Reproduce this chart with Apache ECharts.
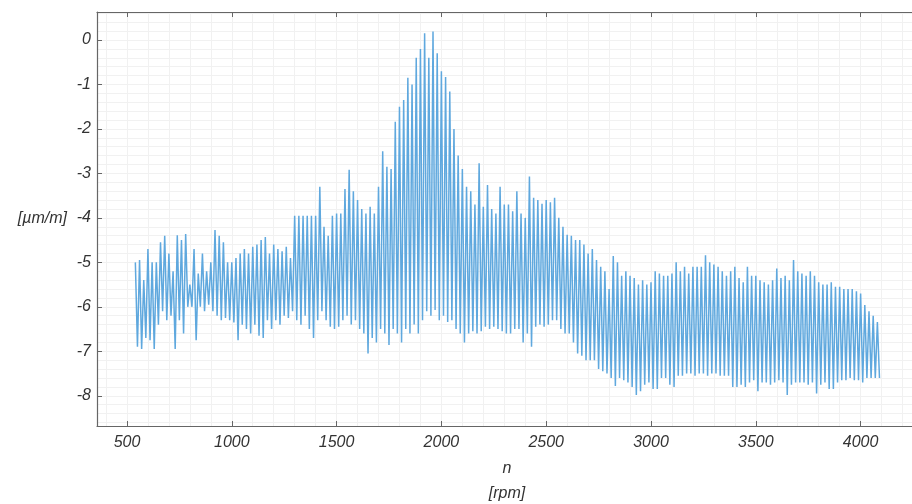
<!DOCTYPE html>
<html>
<head>
<meta charset="utf-8">
<script src="https://cdn.jsdelivr.net/npm/echarts@6/dist/echarts.min.js"></script>
<style>
html,body{margin:0;padding:0;background:#fff;}
#c{width:912px;height:504px;}
</style>
</head>
<body>
<div id="c"></div>
<script>
// sample positions (rpm) of the oscillation envelope
const rpm = [540,560,580,600,620,640,660,680,700,720,740,760,780,800,820,840,860,880,900,920,940,960,980,
1000,1020,1040,1060,1080,1100,1120,1140,1160,1180,1200,1220,1240,1260,1280,1300,1320,1340,1360,1380,1400,1420,1440,1460,1480,
1500,1520,1540,1560,1580,1600,1620,1640,1660,1680,1700,1720,1740,1760,1780,1800,1820,1840,1860,1880,1900,1920,1940,1960,1980,
2000,2020,2040,2060,2080,2100,2120,2140,2160,2180,2200,2220,2240,2260,2280,2300,2320,2340,2360,2380,2400,2420,2440,2460,2480,
2500,2520,2540,2560,2580,2600,2620,2640,2660,2680,2700,2720,2740,2760,2780,2800,2820,2840,2860,2880,2900,2920,2940,2960,2980,
3000,3020,3040,3060,3080,3100,3120,3140,3160,3180,3200,3220,3240,3260,3280,3300,3320,3340,3360,3380,3400,3420,3440,3460,3480,
3500,3520,3540,3560,3580,3600,3620,3640,3660,3680,3700,3720,3740,3760,3780,3800,3820,3840,3860,3880,3900,3920,3940,3960,3980,
4000,4020,4040,4060,4080];
// peak (upper) values of each oscillation [µm/m]
const peakVals = [-5.0,-4.95,-5.4,-4.7,-5.0,-5.0,-4.55,-4.4,-4.8,-5.2,-4.39,-4.5,-4.36,-5.5,-4.7,-5.25,-4.8,-5.2,-5.0,-4.27,-4.4,-4.55,-5.0,
-5.0,-4.9,-4.8,-4.7,-4.8,-4.65,-4.6,-4.5,-4.43,-4.8,-4.6,-4.7,-4.75,-4.65,-4.9,-3.95,-3.95,-3.95,-3.95,-3.95,-3.95,-3.3,-4.2,-4.4,-3.95,
-3.9,-3.9,-3.35,-2.92,-3.4,-3.6,-3.8,-3.9,-3.75,-3.9,-3.3,-2.5,-2.85,-2.9,-1.84,-1.5,-1.35,-0.85,-1.0,-0.4,-0.2,0.15,-0.4,0.19,-0.3,
-0.7,-0.83,-1.16,-2.0,-2.6,-2.9,-3.3,-3.4,-3.7,-2.77,-3.75,-3.26,-3.8,-3.9,-3.3,-3.7,-3.7,-3.85,-3.4,-3.9,-4.0,-3.07,-3.55,-3.6,-3.68,
-3.6,-3.65,-3.55,-4.0,-4.2,-4.38,-4.4,-4.5,-4.5,-4.6,-4.8,-4.7,-4.95,-5.1,-5.2,-5.6,-4.86,-5.0,-5.3,-5.2,-5.3,-5.35,-5.5,-5.4,-5.5,
-5.45,-5.2,-5.25,-5.3,-5.3,-5.25,-5.0,-5.2,-5.1,-5.25,-5.1,-5.1,-5.1,-4.84,-5.0,-5.05,-5.1,-5.2,-5.3,-5.2,-5.1,-5.35,-5.45,-5.1,-5.3,
-5.3,-5.4,-5.45,-5.5,-5.4,-5.14,-5.35,-5.3,-5.4,-4.95,-5.2,-5.25,-5.3,-5.2,-5.3,-5.45,-5.5,-5.5,-5.45,-5.55,-5.55,-5.6,-5.6,-5.6,-5.65,
-5.7,-5.96,-6.1,-6.2,-6.34];
// trough (lower) values of each oscillation [µm/m]
const troughVals = [-6.9,-6.95,-6.7,-6.75,-6.95,-6.4,-6.1,-6.3,-6.2,-6.95,-6.3,-6.6,-6.0,-6.0,-6.75,-6.0,-6.1,-5.95,-6.1,-6.2,-6.3,-6.25,-6.3,
-6.35,-6.75,-6.4,-6.5,-6.6,-6.4,-6.65,-6.7,-6.3,-6.5,-6.3,-6.4,-6.2,-6.25,-6.1,-6.3,-6.4,-6.2,-6.5,-6.7,-6.3,-6.1,-6.3,-6.45,-6.5,
-6.45,-6.3,-6.2,-6.4,-6.3,-6.5,-6.6,-7.05,-6.7,-6.8,-6.5,-6.6,-6.86,-6.5,-6.6,-6.8,-6.5,-6.6,-6.4,-6.6,-6.3,-6.1,-6.2,-6.07,-6.3,
-6.2,-6.34,-6.3,-6.5,-6.6,-6.8,-6.6,-6.55,-6.6,-6.55,-6.45,-6.5,-6.45,-6.5,-6.55,-6.6,-6.6,-6.5,-6.5,-6.8,-6.6,-6.9,-6.45,-6.4,-6.45,
-6.4,-6.3,-6.3,-6.5,-6.6,-6.6,-6.8,-7.05,-7.1,-7.2,-7.2,-7.2,-7.4,-7.45,-7.5,-7.6,-7.78,-7.6,-7.65,-7.7,-7.8,-7.98,-7.9,-7.75,-7.7,
-7.85,-7.85,-7.6,-7.6,-7.75,-7.8,-7.55,-7.55,-7.5,-7.5,-7.55,-7.5,-7.5,-7.55,-7.5,-7.5,-7.55,-7.55,-7.55,-7.8,-7.8,-7.75,-7.8,-7.7,-7.65,
-7.9,-7.7,-7.7,-7.75,-7.7,-7.65,-7.7,-7.98,-7.75,-7.7,-7.7,-7.7,-7.75,-7.7,-7.95,-7.75,-7.7,-7.85,-7.85,-7.7,-7.65,-7.65,-7.6,-7.65,-7.65,
-7.7,-7.6,-7.6,-7.6,-7.6];
// half-period offset (rpm) between a peak and the following trough
const troughOffset = 10;

const xTicks = [500,1000,1500,2000,2500,3000,3500,4000];
const xMinorTicks = [400,500,600,700,800,900,1000,1100,1200,1300,1400,1500,1600,1700,1800,1900,2000,2100,2200,2300,2400,2500,2600,2700,2800,2900,3000,3100,3200,3300,3400,3500,3600,3700,3800,3900,4000,4100,4200];
const yTicks = [-8,-7,-6,-5,-4,-3,-2,-1,0];
const yMinorTicks = [-8.6,-8.4,-8.2,-8,-7.8,-7.6,-7.4,-7.2,-7,-6.8,-6.6,-6.4,-6.2,-6,-5.8,-5.6,-5.4,-5.2,-5,-4.8,-4.6,-4.4,-4.2,-4,-3.8,-3.6,-3.4,-3.2,-3,-2.8,-2.6,-2.4,-2.2,-2,-1.8,-1.6,-1.4,-1.2,-1,-0.8,-0.6,-0.4,-0.2,0,0.2,0.4,0.6];

const data = [];
for (let i = 0; i < rpm.length; i++) {
  data.push([rpm[i], peakVals[i]]);
  data.push([rpm[i] + troughOffset, troughVals[i]]);
}

const XMIN = 357, XMAX = 4269, YMIN = -8.68, YMAX = 0.63;
const font = {fontFamily: 'Liberation Sans, Arial, sans-serif', fontStyle: 'italic', fontSize: 16, color: '#333'};
const axisCol = '#666';
const plain = v => String(v);

const chart = echarts.init(document.getElementById('c'), null, {renderer: 'canvas'});
chart.setOption({
  animation: false,
  backgroundColor: '#fff',
  grid: {left: 97, top: 12, width: 820, height: 414, containLabel: false, outerBoundsMode: 'none'},
  xAxis: [
    { type: 'value', min: XMIN, max: XMAX, position: 'bottom',
      name: 'n\n[rpm]', nameLocation: 'middle', nameGap: 30,
      nameTextStyle: Object.assign({}, font, {lineHeight: 25, verticalAlign: 'top'}),
      axisLine: {show: true, onZero: false, lineStyle: {color: axisCol, width: 1.2}},
      axisTick: {show: true, inside: true, length: 5, customValues: xTicks, lineStyle: {color: axisCol}},
      axisLabel: Object.assign({margin: 9, customValues: xTicks, formatter: plain}, font),
      splitLine: {show: true, lineStyle: {color: '#dedede', width: 1}},
      minorTick: {show: false}, minorSplitLine: {show: false}
    },
    { type: 'value', min: XMIN, max: XMAX, position: 'top',
      axisLine: {show: true, onZero: false, lineStyle: {color: axisCol, width: 1.2}},
      axisTick: {show: true, inside: true, length: 5, customValues: xTicks, lineStyle: {color: axisCol}},
      axisLabel: {show: false},
      splitLine: {show: false}
    },
    { type: 'value', min: XMIN, max: XMAX, position: 'bottom',
      axisLine: {show: false}, axisLabel: {show: false},
      axisTick: {show: false, customValues: xMinorTicks},
      splitLine: {show: true, lineStyle: {color: '#f1f1f1', width: 1}}
    }
  ],
  yAxis: [
    { type: 'value', min: YMIN, max: YMAX, position: 'left',
      name: '[µm/m]', nameLocation: 'middle', nameGap: 30, nameRotate: 0,
      nameTextStyle: Object.assign({}, font, {align: 'right', verticalAlign: 'middle'}),
      axisLine: {show: true, onZero: false, lineStyle: {color: axisCol, width: 1.2}},
      axisTick: {show: true, inside: true, length: 5, customValues: yTicks, lineStyle: {color: axisCol}},
      axisLabel: Object.assign({margin: 6, customValues: yTicks, formatter: plain}, font),
      splitLine: {show: true, lineStyle: {color: '#dedede', width: 1}}
    },
    { type: 'value', min: YMIN, max: YMAX, position: 'right',
      axisLine: {show: false}, axisLabel: {show: false},
      axisTick: {show: false, customValues: yMinorTicks},
      splitLine: {show: true, lineStyle: {color: '#f1f1f1', width: 1}}
    }
  ],
  series: [
    { type: 'line', xAxisIndex: 2, yAxisIndex: 1, data: [], silent: true },
    { type: 'line', xAxisIndex: 1, yAxisIndex: 0, data: [], silent: true },
    { type: 'line', xAxisIndex: 0, yAxisIndex: 0, data: data,
      showSymbol: false, symbol: 'none', z: 5,
      lineStyle: {color: '#5fa8de', width: 1.5}
    }
  ]
});
</script>
</body>
</html>
